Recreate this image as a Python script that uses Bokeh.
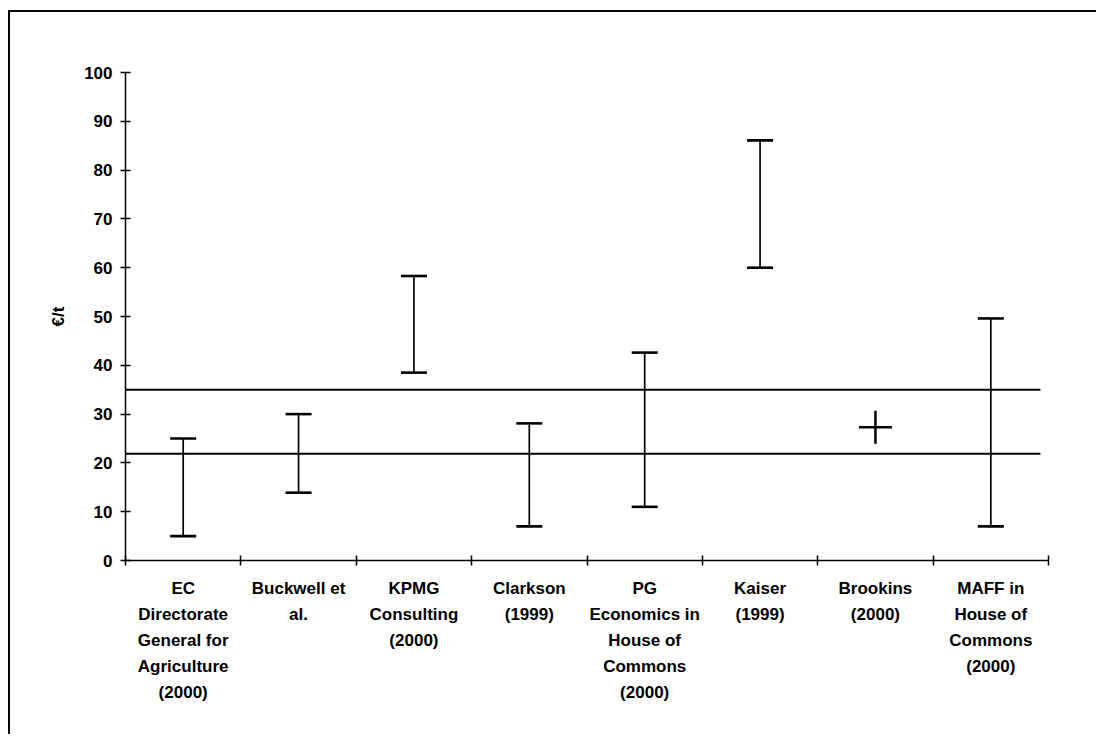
from bokeh.plotting import figure
from bokeh.models import (Range1d, FixedTicker, ColumnDataSource, Whisker, TeeHead)
from bokeh.embed import file_html
from bokeh.resources import INLINE

# ---- data ----
categories = [
    "EC\nDirectorate\nGeneral for\nAgriculture\n(2000)",
    "Buckwell et\nal.",
    "KPMG\nConsulting\n(2000)",
    "Clarkson\n(1999)",
    "PG\nEconomics in\nHouse of\nCommons\n(2000)",
    "Kaiser\n(1999)",
    "Brookins\n(2000)",
    "MAFF in\nHouse of\nCommons\n(2000)",
]
low_values = [5.0, 13.9, 38.5, 7.0, 11.0, 60.0, 27.3, 7.0]
high_values = [25.0, 30.0, 58.3, 28.1, 42.6, 86.1, 27.3, 49.6]
reference_lines = [35.0, 21.9]
y_ticks = [0, 10, 20, 30, 40, 50, 60, 70, 80, 90, 100]
y_title = "€/t"

FONT = "Liberation Sans"
n = len(categories)
centers = [i + 0.5 for i in range(n)]
bounds = list(range(n + 1))

p = figure(width=1088, height=724, output_backend="svg", toolbar_location=None,
           x_range=Range1d(0, n), y_range=Range1d(0, 100),
           min_border_left=115, min_border_right=50, min_border_top=60,
           min_border_bottom=176)
p.styles = {"border-top": "2px solid black", "border-left": "2px solid black",
            "margin-left": "8px", "margin-top": "10px"}
p.outline_line_color = None
p.xgrid.grid_line_color = None
p.ygrid.grid_line_color = None
p.background_fill_color = "white"
p.border_fill_color = "white"

# y axis
ya = p.yaxis[0]
ya.ticker = FixedTicker(ticks=y_ticks, minor_ticks=[])
ya.axis_line_width = 1.5
ya.major_tick_line_width = 1.5
ya.major_tick_in = 5
ya.major_tick_out = 5
ya.minor_tick_line_color = None
ya.major_label_text_font = FONT
ya.major_label_text_font_style = "bold"
ya.major_label_text_font_size = "17px"
ya.major_label_text_color = "black"
ya.major_label_standoff = 8
ya.axis_label = y_title
ya.axis_label_text_font = FONT
ya.axis_label_text_font_style = "bold"
ya.axis_label_text_font_size = "17px"
ya.axis_label_text_color = "black"
ya.axis_label_standoff = 13

# x axis: ticks at category boundaries (minor), labels at centres
xa = p.xaxis[0]
xa.ticker = FixedTicker(ticks=centers, minor_ticks=bounds)
xa.major_label_overrides = {c: lab for c, lab in zip(centers, categories)}
xa.axis_line_width = 1.5
xa.major_tick_line_color = None
xa.major_tick_in = 0
xa.major_tick_out = 0
xa.minor_tick_line_width = 1.5
xa.minor_tick_line_color = "black"
xa.minor_tick_in = 5
xa.minor_tick_out = 5
xa.major_label_text_font = FONT
xa.major_label_text_font_style = "bold"
xa.major_label_text_font_size = "17px"
xa.major_label_text_color = "black"
xa.major_label_text_line_height = 1.37
xa.major_label_standoff = 13

# reference lines
for v in reference_lines:
    p.segment(x0=0, x1=n - 0.07, y0=v, y1=v, line_color="black", line_width=2)

# ranges
rng_x = [c for c, lo, hi in zip(centers, low_values, high_values) if lo != hi]
rng_lo = [lo for lo, hi in zip(low_values, high_values) if lo != hi]
rng_hi = [hi for lo, hi in zip(low_values, high_values) if lo != hi]
src = ColumnDataSource(dict(x=rng_x, lo=rng_lo, hi=rng_hi))
w = Whisker(base="x", lower="lo", upper="hi", source=src, dimension="height",
            line_color="black", line_width=1.7,
            upper_head=TeeHead(size=26, line_width=2.6, line_color="black"),
            lower_head=TeeHead(size=26, line_width=2.6, line_color="black"))
p.add_layout(w)

# point estimates
pt_x = [c for c, lo, hi in zip(centers, low_values, high_values) if lo == hi]
pt_y = [lo for lo, hi in zip(low_values, high_values) if lo == hi]
p.scatter(pt_x, pt_y, marker="cross", size=33, line_color="black", line_width=2.5)

open("out.html", "w").write(file_html(p, INLINE))
